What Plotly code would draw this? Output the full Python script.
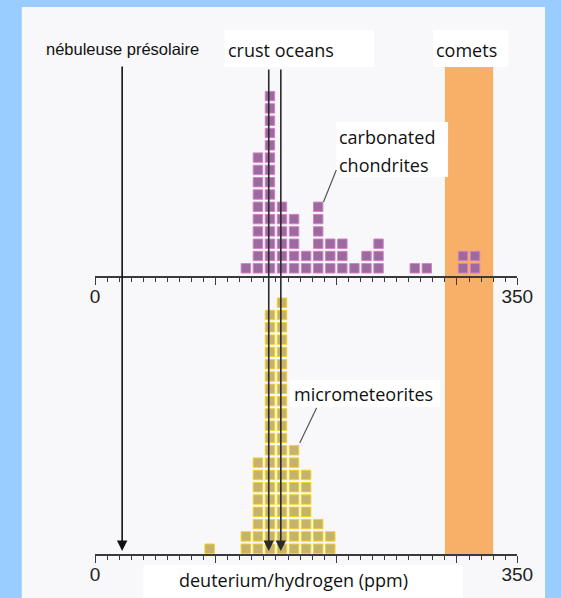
import plotly.graph_objects as go

# ---- data -------------------------------------------------------------
# D/H histogram bins (left edge of each 10 ppm bin) and number of samples
chondrite_bins = [120, 130, 140, 150, 160, 170, 180, 190, 200, 210, 220, 230, 260, 270, 300, 310]
chondrite_counts = [1, 10, 15, 6, 5, 2, 6, 3, 3, 1, 2, 3, 1, 1, 2, 2]

micro_bins = [90, 120, 130, 140, 150, 160, 170, 180, 190]
micro_counts = [1, 2, 8, 20, 21, 9, 7, 3, 2]

bin_width = 10
axis_range = [0, 350]
major_ticks = [0, 100, 200, 300, 350]
major_labels = ["0", "", "", "", "350"]

presolar_dh = 22.5          # nébuleuse présolaire
ocean_dh = [144, 154]       # crust / oceans
comet_dh = [290, 330]       # comets band

# ---- helpers ------------------------------------------------------------
W, H = 561, 598
VIEW_W = 546                # drawable width of the page


def px(x):
    return x / VIEW_W


def py(y):
    return 1 - y / H


def stack(bins, counts):
    xs, ys = [], []
    for b, c in zip(bins, counts):
        for k in range(c):
            xs.append(b + bin_width / 2)
            ys.append(k + 0.5)
    return xs, ys


cx, cy = stack(chondrite_bins, chondrite_counts)
mx, my = stack(micro_bins, micro_counts)

fig = go.Figure()
fig.add_trace(go.Scatter(
    x=cx, y=cy, mode="markers", xaxis="x", yaxis="y", hoverinfo="skip",
    marker=dict(symbol="square", size=9.4, color="#9b6b9d",
                line=dict(color="#d77fc8", width=1)),
))
fig.add_trace(go.Scatter(
    x=mx, y=my, mode="markers", xaxis="x2", yaxis="y2", hoverinfo="skip",
    marker=dict(symbol="square", size=9.4, color="#c5b26c",
                line=dict(color="#f3d31e", width=1)),
))

tick_font = dict(family="Liberation Sans", size=19, color="#222")
axis_common = dict(
    range=axis_range, showgrid=False, zeroline=False,
    showline=True, linecolor="#3a3a3a", linewidth=1.5,
    ticks="outside", tickvals=major_ticks, ticktext=major_labels,
    ticklen=7, tickwidth=1.3, tickcolor="#3a3a3a", tickfont=tick_font,
    ticklabelstandoff=-5,
    minor=dict(ticks="outside", tickmode="linear", tick0=0, dtick=bin_width,
               ticklen=4, tickwidth=1, tickcolor="#3a3a3a"),
    fixedrange=True,
)

label_font = dict(family="Open Sans", size=18, color="#111")

shapes = [
    # white panel on the blue frame
    dict(type="rect", xref="paper", yref="paper", x0=px(17), x1=1, y0=0, y1=py(7),
         fillcolor="#f8f8fa", line=dict(width=0), layer="below"),
    # comets D/H range
    dict(type="rect", xref="x", yref="paper", x0=comet_dh[0], x1=comet_dh[1],
         y0=py(555), y1=py(67), fillcolor="#f8b068", line=dict(width=0), layer="below"),
]
# white label boxes
for x0, x1, y0, y1 in [(222, 373, 30, 67), (433, 509, 30, 67), (335, 448, 122, 177),
                       (288, 440, 380, 407), (140, 463, 565, 598)]:
    shapes.append(dict(type="rect", xref="paper", yref="paper",
                       x0=px(x0), x1=px(x1), y0=py(y1), y1=py(y0),
                       fillcolor="#ffffff", line=dict(width=0), layer="below"))
# leader lines
for x0, y0, x1, y1 in [(335, 170, 322, 202), (315, 408, 298, 443)]:
    shapes.append(dict(type="line", xref="paper", yref="paper",
                       x0=px(x0), y0=py(y0), x1=px(x1), y1=py(y1),
                       line=dict(color="#555", width=1.2), layer="above"))

annotations = [
    dict(text="nébuleuse présolaire", x=presolar_dh, xref="x", y=py(49), yref="paper",
         xanchor="center", yanchor="middle", showarrow=False,
         font=dict(family="Liberation Sans", size=16.5, color="#111")),
    dict(text="crust oceans", x=px(223), xref="paper", y=py(49.5), yref="paper",
         xanchor="left", yanchor="middle", showarrow=False, font=label_font),
    dict(text="comets", x=px(434), xref="paper", y=py(49.5), yref="paper",
         xanchor="left", yanchor="middle", showarrow=False, font=label_font),
    dict(text="carbonated", x=px(336), xref="paper", y=py(137), yref="paper",
         xanchor="left", yanchor="middle", showarrow=False, font=label_font),
    dict(text="chondrites", x=px(336), xref="paper", y=py(164.5), yref="paper",
         xanchor="left", yanchor="middle", showarrow=False, font=label_font),
    dict(text="micrometeorites", x=px(290), xref="paper", y=py(394.5), yref="paper",
         xanchor="left", yanchor="middle", showarrow=False, font=label_font),
    dict(text="deuterium/hydrogen (ppm)", x=px(292), xref="paper", y=py(580), yref="paper",
         xanchor="center", yanchor="middle", showarrow=False, font=label_font),
]
# reference values drawn as arrows down to the bottom axis
for val, top, col in [(presolar_dh, 65, "#111"), (ocean_dh[0], 68, "#2b2b2b"),
                      (ocean_dh[1], 68, "#2b2b2b")]:
    annotations.append(dict(
        text="", x=val, xref="x2", y=py(551), yref="paper",
        ax=0, ay=-(551 - top), axref="pixel", ayref="pixel",
        showarrow=True, arrowhead=2, arrowsize=1.3, arrowwidth=1.6, arrowcolor=col,
    ))

row_px = 12.3
top_base, top_top = 276, 60
bot_base, bot_top = 554, 285
top_start = -0.126
bot_start = 0.07

fig.update_layout(
    width=W, height=H, margin=dict(l=0, r=0, t=0, b=0),
    paper_bgcolor="#99ccff", plot_bgcolor="rgba(0,0,0,0)",
    showlegend=False,
    xaxis=dict(domain=[px(91), px(518)], anchor="y", **axis_common),
    yaxis=dict(domain=[py(top_base), py(top_top)], anchor="x", visible=False,
               range=[top_start, top_start + (top_base - top_top) / row_px], fixedrange=True),
    xaxis2=dict(domain=[px(91), px(518)], anchor="y2", **axis_common),
    yaxis2=dict(domain=[py(bot_base), py(bot_top)], anchor="x2", visible=False,
                range=[bot_start, bot_start + (bot_base - bot_top) / row_px], fixedrange=True),
    shapes=shapes,
    annotations=annotations,
)

fig.write_html("out.html")
